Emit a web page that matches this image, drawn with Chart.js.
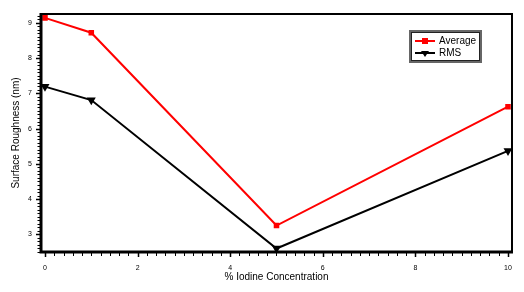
<!DOCTYPE html>
<html><head><meta charset="utf-8">
<script src="https://cdn.jsdelivr.net/npm/chart.js@4"></script>
<style>html,body{margin:0;padding:0;background:#fff;}#wrap{width:524px;height:292px;}</style>
</head><body><div id="wrap"><canvas id="c"></canvas></div>
<script>
const concentrations = [0, 1, 5, 10];
const averageValues = [9.14, 8.72, 3.25, 6.62];
const rmsValues = [7.19, 6.81, 2.6, 5.37];
const xTickValues = [0, 2, 4, 6, 8, 10];
const yTickValues = [3, 4, 5, 6, 7, 8, 9];
const seriesNames = ['Average', 'RMS'];

const FONT = "'Liberation Sans', Arial, sans-serif";

const framePlugin = {
  id: 'frame',
  afterDraw(chart) {
    const ctx = chart.ctx, a = chart.chartArea;
    const xs = chart.scales.x, ys = chart.scales.y;
    ctx.save();
    ctx.strokeStyle = '#000';
    for (let v = 0; v <= 10.0001; v += 0.2) {
      const px = Math.round(xs.getPixelForValue(v)) + 0.5;
      const major = Math.abs(v - Math.round(v / 2) * 2) < 1e-6;
      ctx.lineWidth = major ? 1.5 : 1;
      ctx.beginPath(); ctx.moveTo(px, a.bottom); ctx.lineTo(px, a.bottom + (major ? 5 : 4)); ctx.stroke();
    }
    for (let v = 2.5; v <= 9.25; v += 0.1) {
      const py = Math.round(ys.getPixelForValue(v)) + 0.5;
      const major = Math.abs(v - Math.round(v)) < 1e-6;
      ctx.lineWidth = major ? 1.5 : 1;
      ctx.beginPath(); ctx.moveTo(a.left, py); ctx.lineTo(a.left - (major ? 5 : 3.5), py); ctx.stroke();
    }
    ctx.lineWidth = 2;
    ctx.beginPath();
    ctx.moveTo(a.left, a.top); ctx.lineTo(a.right, a.top); ctx.lineTo(a.right, a.bottom);
    ctx.stroke();
    ctx.lineWidth = 3;
    ctx.beginPath();
    ctx.moveTo(a.left, a.top - 1); ctx.lineTo(a.left, a.bottom); ctx.lineTo(a.right + 1, a.bottom);
    ctx.stroke();
    const lx = 409, ly = 30, lw = 73, lh = 33;
    ctx.fillStyle = '#fff';
    ctx.fillRect(lx, ly, lw, lh);
    ctx.strokeStyle = '#666';
    ctx.lineWidth = 2;
    ctx.strokeRect(lx + 1, ly + 1, lw - 2, lh - 2);
    ctx.strokeStyle = '#222';
    ctx.lineWidth = 1;
    ctx.strokeRect(lx + 2.5, ly + 2.5, lw - 5, lh - 5);
    chart.data.datasets.forEach((ds, i) => {
      const y = ly + 11 + i * 12;
      ctx.strokeStyle = ds.borderColor; ctx.lineWidth = 2;
      ctx.beginPath(); ctx.moveTo(415, y); ctx.lineTo(435, y); ctx.stroke();
      ctx.fillStyle = ds.borderColor;
      if (i === 0) {
        ctx.fillRect(422, y - 3, 6, 6);
      } else {
        ctx.beginPath(); ctx.moveTo(421, y - 2); ctx.lineTo(429, y - 2); ctx.lineTo(425, y + 4); ctx.closePath(); ctx.fill();
      }
      ctx.fillStyle = '#000';
      ctx.font = '10px ' + FONT;
      ctx.textBaseline = 'middle';
      ctx.textAlign = 'left';
      ctx.fillText(ds.label, 439, y);
    });
    ctx.restore();
  }
};

new Chart(document.getElementById('c'), {
  type: 'scatter',
  data: {
    datasets: [
      {
        label: seriesNames[0],
        data: concentrations.map((x, i) => ({x, y: averageValues[i]})),
        showLine: true, borderColor: '#ff0000', backgroundColor: '#ff0000',
        borderWidth: 2, pointStyle: 'rect', pointRadius: 2.5, pointHoverRadius: 2.5
      },
      {
        label: seriesNames[1],
        data: concentrations.map((x, i) => ({x, y: rmsValues[i]})),
        showLine: true, borderColor: '#000000', backgroundColor: '#000000',
        borderWidth: 2, pointStyle: 'triangle', rotation: 180, pointRadius: 3.2, pointHoverRadius: 3.2
      }
    ]
  },
  options: {
    responsive: true, maintainAspectRatio: false, animation: false,
    layout: { padding: { top: 14, right: 11, left: 0, bottom: 4 } },
    plugins: { legend: { display: false }, tooltip: { enabled: false } },
    scales: {
      x: {
        type: 'linear', min: -0.086, max: 10.086,
        afterBuildTicks: s => { s.ticks = xTickValues.map(v => ({value: v})); },
        afterFit: s => { s.height = 36; },
        grid: { display: false, drawTicks: false },
        border: { display: false },
        ticks: { color: '#000', font: { size: 7, family: FONT }, padding: 12, maxRotation: 0 },
        title: { display: true, text: '% Iodine Concentration', color: '#000', font: { size: 10, family: FONT }, padding: { top: 0, bottom: 5 } }
      },
      y: {
        type: 'linear', min: 2.5, max: 9.25,
        afterBuildTicks: s => { s.ticks = yTickValues.map(v => ({value: v})); },
        afterFit: s => { s.width = 41; },
        grid: { display: false, drawTicks: false },
        border: { display: false },
        ticks: { color: '#000', font: { size: 7, family: FONT }, padding: 9 },
        title: { display: true, text: 'Surface Roughness (nm)', color: '#000', font: { size: 10, family: FONT }, padding: { top: 10, bottom: 0 } }
      }
    }
  },
  plugins: [framePlugin]
});
</script>
</body></html>
